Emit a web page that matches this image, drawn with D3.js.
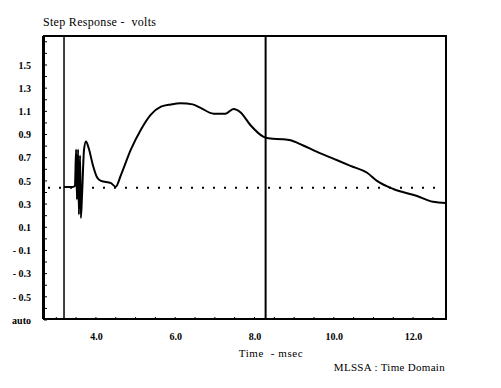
<!DOCTYPE html>
<html>
<head>
<meta charset="utf-8">
<script src="https://cdn.jsdelivr.net/npm/d3@7"></script>
<style>
  body { margin: 0; background: #fff; }
  svg text { font-family: "Liberation Serif", "DejaVu Serif", serif; fill: #000; white-space: pre; }
</style>
</head>
<body>
<svg id="svg" width="501" height="388"></svg>
<script>
// ---- data ----
const timeMs = [3.195, 3.42, 3.47, 3.50, 3.52, 3.55, 3.57, 3.60, 3.62, 3.65, 3.70, 3.75, 3.82, 3.92, 4.03, 4.13, 4.38, 4.50, 4.63, 4.88, 5.13, 5.38, 5.64, 5.89, 6.14, 6.44, 6.64, 6.97, 7.27, 7.47, 7.65, 7.90, 8.23, 8.40, 8.70, 8.91, 9.20, 9.58, 10.00, 10.42, 10.84, 11.09, 11.50, 12.10, 12.50, 12.83];
const volts  = [0.448, 0.448, 0.457, 0.77, 0.34, 0.77, 0.21, 0.72, 0.18, 0.38, 0.77, 0.84, 0.78, 0.64, 0.53, 0.50, 0.48, 0.45, 0.55, 0.77, 0.94, 1.07, 1.14, 1.16, 1.17, 1.16, 1.13, 1.08, 1.08, 1.12, 1.09, 0.98, 0.88, 0.865, 0.86, 0.85, 0.81, 0.75, 0.69, 0.63, 0.57, 0.50, 0.43, 0.37, 0.32, 0.31];
const refLevel = 0.44;           // dotted reference line
const cursors = [3.195, 8.28];   // vertical cursor lines
const yTicks = [1.5, 1.3, 1.1, 0.9, 0.7, 0.5, 0.3, 0.1, -0.1, -0.3, -0.5, -0.7];
const xTicks = [4, 6, 8, 10, 12];

// ---- layout ----
const plotL = 44, plotR = 446, plotT = 36, plotB = 319;
const x = d3.scaleLinear().domain([2.69, 12.83]).range([plotL, plotR]);
const y = d3.scaleLinear().domain([-0.7, 1.75]).range([320, plotT]);

const svg = d3.select("#svg");

// title and captions
svg.append("text").attr("x", 43).attr("y", 26).attr("font-size", 12).attr("letter-spacing", 0.3)
    .text("Step Response -  volts");
svg.append("text").attr("x", 271).attr("y", 357).attr("font-size", 11).attr("letter-spacing", 0.6)
    .attr("text-anchor", "middle").text("Time  - msec");
svg.append("text").attr("x", 445).attr("y", 371).attr("font-size", 11).attr("letter-spacing", 0.3)
    .attr("text-anchor", "end").text("MLSSA : Time Domain");

// y axis labels
svg.append("g")
    .attr("transform", `translate(${plotL - 10},0)`)
    .call(d3.axisLeft(y).tickValues(yTicks).tickSize(0)
        .tickFormat(v => v < -0.6 ? "auto" : v < 0 ? "- " + d3.format(".1f")(-v) : d3.format(".1f")(v)))
    .call(g => g.select(".domain").remove())
    .call(g => g.selectAll("text").attr("font-size", 10).attr("font-weight", "bold")
        .attr("font-family", "Liberation Serif, serif"));

// x axis labels
svg.append("g")
    .attr("transform", `translate(0,${plotB + 11})`)
    .call(d3.axisBottom(x).tickValues(xTicks).tickSize(0).tickFormat(d3.format(".1f")))
    .call(g => g.select(".domain").remove())
    .call(g => g.selectAll("text").attr("font-size", 10).attr("font-weight", "bold")
        .attr("font-family", "Liberation Serif, serif"));

// small inner tick marks
svg.append("g").selectAll("line")
    .data(d3.range(-0.7, 1.75, 0.1))
    .join("line")
    .attr("x1", plotL).attr("x2", plotL + 3)
    .attr("y1", d => y(d)).attr("y2", d => y(d))
    .attr("stroke", "#000").attr("stroke-width", 1);
svg.append("g").selectAll("line")
    .data(d3.range(3, 12.9, 0.5))
    .join("line")
    .attr("x1", d => x(d)).attr("x2", d => x(d))
    .attr("y1", plotB).attr("y2", plotB - 2)
    .attr("stroke", "#000").attr("stroke-width", 1);

// dotted reference line
svg.append("line")
    .attr("x1", 48).attr("x2", plotR - 4)
    .attr("y1", y(refLevel)).attr("y2", y(refLevel))
    .attr("stroke", "#000").attr("stroke-width", 2)
    .attr("stroke-dasharray", "2,9");

// cursors
svg.append("g").selectAll("line")
    .data(cursors)
    .join("line")
    .attr("x1", d => x(d)).attr("x2", d => x(d))
    .attr("y1", plotT).attr("y2", plotB)
    .attr("stroke", "#000").attr("stroke-width", (d, i) => i ? 2 : 1.5);

// frame
svg.append("rect")
    .attr("x", plotL).attr("y", plotT)
    .attr("width", plotR - plotL).attr("height", plotB - plotT)
    .attr("fill", "none").attr("stroke", "#000").attr("stroke-width", 2);
svg.append("line")
    .attr("x1", plotL - 1).attr("x2", plotL - 1).attr("y1", plotT).attr("y2", plotB)
    .attr("stroke", "#000").attr("stroke-width", 2);

// step response trace
const line = d3.line().curve(d3.curveMonotoneX).x(d => x(d[0])).y(d => y(d[1]));
svg.append("path")
    .attr("d", line(d3.zip(timeMs, volts)))
    .attr("fill", "none").attr("stroke", "#000").attr("stroke-width", 2);
</script>
</body>
</html>
